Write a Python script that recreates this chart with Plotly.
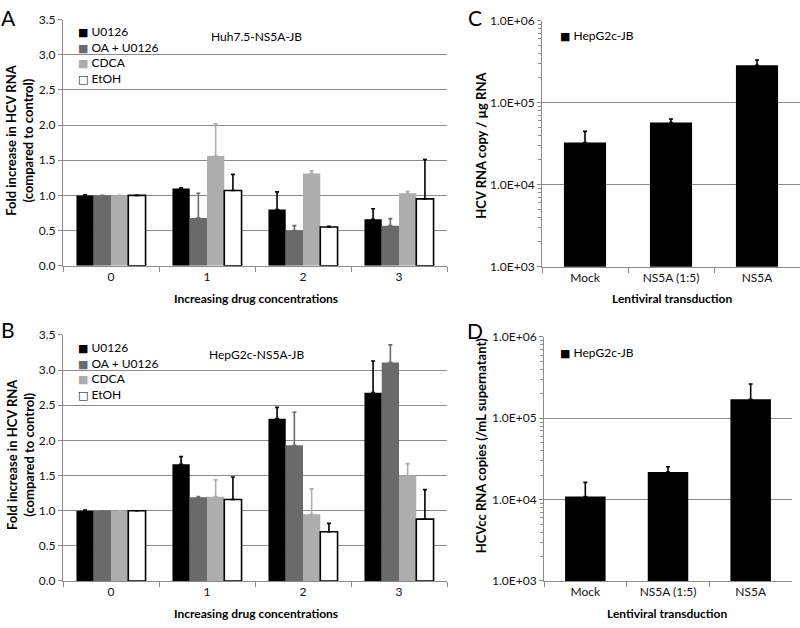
import plotly.graph_objects as go

# Panels A/B: fold increase in HCV RNA, four treatments x four concentrations
concentrations = ["0", "1", "2", "3"]
treatments = ["U0126", "OA + U0126", "CDCA", "EtOH"]

huh_values = {
    "U0126": [1.0, 1.10, 0.80, 0.66],
    "OA + U0126": [1.0, 0.68, 0.50, 0.57],
    "CDCA": [1.0, 1.56, 1.31, 1.03],
    "EtOH": [1.0, 1.07, 0.55, 0.95],
}
huh_errors = {
    "U0126": [0.01, 0.01, 0.25, 0.15],
    "OA + U0126": [0.0, 0.35, 0.07, 0.10],
    "CDCA": [0.0, 0.46, 0.04, 0.03],
    "EtOH": [0.0, 0.23, 0.01, 0.56],
}
hep_values = {
    "U0126": [1.0, 1.66, 2.31, 2.68],
    "OA + U0126": [1.0, 1.19, 1.93, 3.11],
    "CDCA": [1.0, 1.20, 0.95, 1.50],
    "EtOH": [1.0, 1.16, 0.70, 0.88],
}
hep_errors = {
    "U0126": [0.01, 0.11, 0.16, 0.45],
    "OA + U0126": [0.0, 0.01, 0.47, 0.25],
    "CDCA": [0.0, 0.24, 0.36, 0.17],
    "EtOH": [0.0, 0.32, 0.12, 0.42],
}

# Panels C/D: lentiviral transduction, log scale
transductions = ["Mock", "NS5A (1:5)", "NS5A"]
rna_per_ug = [32700, 57300, 286000]
rna_per_ug_err = [12000, 6000, 45000]
hcvcc_per_ml = [10900, 21900, 171000]
hcvcc_per_ml_err = [5400, 3500, 93000]

log_tickvals = [1e3, 1e4, 1e5, 1e6]
log_ticktext = ["1.0E+03", "1.0E+04", "1.0E+05", "1.0E+06"]
log_minor = [m * d for d in (1e3, 1e4, 1e5) for m in range(2, 10)]

FONT = "Lato, 'Open Sans', sans-serif"
W, H = 800, 628

fills = {"U0126": "#000000", "OA + U0126": "#6a6a6a", "CDCA": "#adadad", "EtOH": "#ffffff"}
err_colors = {"U0126": "#000000", "OA + U0126": "#6a6a6a", "CDCA": "#adadad", "EtOH": "#000000"}


def px_x(x0, x1):
    return [x0 / W, x1 / W]


def px_y(top, bottom):
    return [1 - bottom / H, 1 - top / H]


fig = go.Figure()

for values, errors, xa, ya in [
    (huh_values, huh_errors, "x", "y"),
    (hep_values, hep_errors, "x2", "y2"),
]:
    for name in treatments:
        fig.add_trace(go.Bar(
            x=concentrations, y=values[name], name=name, xaxis=xa, yaxis=ya,
            marker=dict(color=fills[name],
                        line=dict(color="#000000", width=1.6 if name == "EtOH" else 0)),
            error_y=dict(type="data", symmetric=False, array=errors[name],
                         arrayminus=[0] * len(errors[name]),
                         color=err_colors[name], thickness=1.6, width=2),
        ))

for values, errors, xa, ya in [
    (rna_per_ug, rna_per_ug_err, "x3", "y3"),
    (hcvcc_per_ml, hcvcc_per_ml_err, "x4", "y4"),
]:
    fig.add_trace(go.Bar(
        x=transductions, y=values, name="HepG2c-JB", xaxis=xa, yaxis=ya, width=0.49,
        marker=dict(color="#000000", line=dict(width=0)),
        error_y=dict(type="data", symmetric=False, array=errors,
                     arrayminus=[0] * len(errors), color="#000000", thickness=1.6, width=2),
    ))

grid = "#8a8a8a"
tickfont = dict(family=FONT, size=12, color="#111111")


def xaxis_style(domain, anchor):
    return dict(domain=domain, anchor=anchor, type="category", showline=True,
                linecolor=grid, linewidth=1, ticks="outside", tickson="boundaries",
                tickcolor=grid, ticklen=5, tickfont=tickfont, showgrid=False,
                zeroline=False, fixedrange=True)


lin_y = dict(range=[0, 3.5], dtick=0.5, tickformat=".1f", showgrid=True, gridcolor=grid,
             gridwidth=1, showline=True, linecolor=grid, ticks="outside", tickcolor=grid,
             ticklen=4, tickfont=tickfont, zeroline=False)
log_y = dict(type="log", range=[3, 6], tickvals=log_tickvals, ticktext=log_ticktext,
             showgrid=True, gridcolor=grid, gridwidth=1, showline=True, linecolor=grid,
             ticks="outside", tickcolor=grid, ticklen=4, tickfont=tickfont, zeroline=False,
             minor=dict(tickvals=log_minor, ticks="outside", ticklen=3, tickcolor=grid,
                        showgrid=False))

fig.update_layout(
    width=W, height=H, margin=dict(l=0, r=0, t=0, b=0),
    paper_bgcolor="white", plot_bgcolor="white",
    barmode="group", bargap=0.28, bargroupgap=0, showlegend=False,
    font=dict(family=FONT, size=12, color="#000000"),
    xaxis=xaxis_style(px_x(63, 447), "y"),
    yaxis=dict(domain=px_y(12, 264), anchor="x", **lin_y),
    xaxis2=xaxis_style(px_x(63, 447), "y2"),
    yaxis2=dict(domain=px_y(335, 587), anchor="x2", **lin_y),
    xaxis3=xaxis_style(px_x(542, 800), "y3"),
    yaxis3=dict(domain=px_y(13, 265), anchor="x3", **log_y),
    xaxis4=xaxis_style(px_x(544, 792), "y4"),
    yaxis4=dict(domain=px_y(337, 587), anchor="x4", **log_y),
)

ann = []


def text(x, y, s, size=12, bold=False, angle=0, xanchor="center"):
    if bold:
        s = f"<b>{s}</b>"
    ann.append(dict(x=x / W, y=1 - y / H, xref="paper", yref="paper", text=s,
                    showarrow=False, textangle=angle, xanchor=xanchor, yanchor="middle",
                    font=dict(family=FONT, size=size, color="#000000")))


def legend_row(x, y, label, fill):
    glyph = "□" if fill == "#ffffff" else "■"
    color = "#000000" if fill == "#ffffff" else fill
    sq = f"<span style='font-family:DejaVu Sans;font-size:11px;color:{color}'>{glyph}</span>"
    ann.append(dict(x=x / W, y=1 - y / H, xref="paper", yref="paper",
                    text=f"{sq} {label}", showarrow=False, xanchor="left",
                    yanchor="middle", font=dict(family=FONT, size=12, color="#000000")))


for i, name in enumerate(treatments):
    legend_row(76, 24 + 16 * i, name, fills[name])
    legend_row(76, 348 + 16 * i, name, fills[name])
legend_row(558, 28, "HepG2c-JB", "#000000")
legend_row(558, 353, "HepG2c-JB", "#000000")

for letter, x, y in [("A", 8, 10), ("B", 8, 329), ("C", 475, 10), ("D", 475, 330)]:
    text(x, y, letter, size=21)

text(256, 29, "Huh7.5-NS5A-JB")
text(256, 355, "HepG2c-NS5A-JB")

yt = "Fold increase in HCV RNA<br>(compared to control)"
text(20, 136, yt, size=13, bold=True, angle=-90)
text(20, 458, yt, size=13, bold=True, angle=-90)
text(481, 140, "HCV RNA copy / µg RNA", size=13, bold=True, angle=-90)
text(481, 448, "HCVcc RNA copies (/mL supernatant)", size=13, bold=True, angle=-90)

text(256, 298, "Increasing drug concentrations", bold=True)
text(256, 620, "Increasing drug concentrations", bold=True)
text(672, 298, "Lentiviral transduction", bold=True)
text(667, 620, "Lentiviral transduction", bold=True)

fig.update_layout(annotations=ann)

# the page's default body margin would push the fixed-size figure off the window
fig.write_html("out.html", config={"displayModeBar": False},
               post_script="document.body.style.margin='0';document.body.style.overflow='hidden';")
